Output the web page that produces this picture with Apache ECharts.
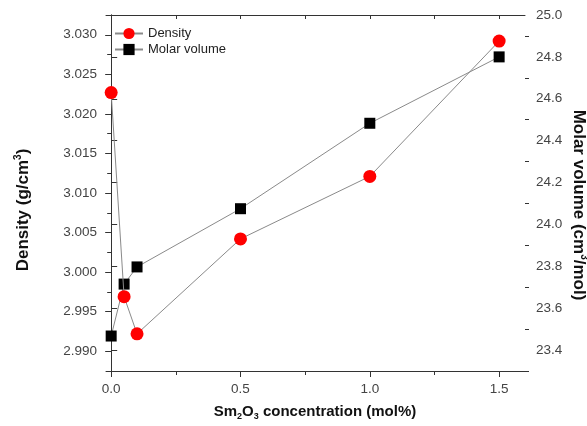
<!DOCTYPE html>
<html>
<head>
<meta charset="utf-8">
<script src="https://cdn.jsdelivr.net/npm/echarts@6/dist/echarts.min.js"></script>
<style>
  html, body { margin: 0; padding: 0; background: #fff; }
  #chart { width: 587px; height: 426px; }
</style>
</head>
<body>
<div id="chart"></div>
<script>
// Sm2O3 concentration (mol%)
const concentration = [0, 0.05, 0.1, 0.5, 1.0, 1.5];
// Density (g/cm3)
const density = [3.0227, 2.9969, 2.9922, 3.0042, 3.0121, 3.0292];
// Molar volume (cm3/mol)
const molarVolume = [23.467, 23.715, 23.797, 24.075, 24.483, 24.80];

// Tick positions
const xMajorTicks = [0, 0.5, 1.0, 1.5];
const xMinorTicks = [0.25, 0.75, 1.25];
const xAllTicks = [0, 0.25, 0.5, 0.75, 1.0, 1.25, 1.5];
const densityMajorTicks = [2.990, 2.995, 3.000, 3.005, 3.010, 3.015, 3.020, 3.025, 3.030];
const densityMinorTicks = [2.9925, 2.9975, 3.0025, 3.0075, 3.0125, 3.0175, 3.0225, 3.0275];
const volumeMajorTicks = [23.4, 23.6, 23.8, 24.0, 24.2, 24.4, 24.6, 24.8, 25.0];
const volumeMinorTicks = [23.3, 23.5, 23.7, 23.9, 24.1, 24.3, 24.5, 24.7, 24.9];

const FONT = '"Liberation Sans", Arial, sans-serif';
const AXIS_COLOR = '#333';
const LABEL_COLOR = '#444';
const TICK_FONT_SIZE = 13.5;
const X_RANGE = [-0.02, 1.6];
const DENSITY_RANGE = [2.9875, 3.0325];
const VOLUME_RANGE = [23.3, 25.0];

function tickOnlyAxis(extra) {
  return Object.assign({
    type: 'value',
    axisLine: { show: false },
    axisLabel: { show: false },
    splitLine: { show: false }
  }, extra);
}

// Bold title with one raised or lowered small digit
function titleRich(size, subSize, shiftPad) {
  return {
    b: { fontFamily: FONT, fontSize: size, fontWeight: 'bold', fill: '#111', lineHeight: size + 5, verticalAlign: 'middle' },
    s: { fontFamily: FONT, fontSize: subSize, fontWeight: 'bold', fill: '#111', lineHeight: size + 5, padding: shiftPad, verticalAlign: 'middle' }
  };
}

const chart = echarts.init(document.getElementById('chart'), null, { renderer: 'canvas' });

chart.setOption({
  animation: false,
  backgroundColor: '#fff',
  grid: { left: 106, right: 62, top: 15, bottom: 55, containLabel: false },
  legend: {
    orient: 'vertical',
    left: 114,
    top: 27,
    padding: 0,
    itemWidth: 28,
    itemHeight: 14,
    itemGap: 3,
    data: ['Density', 'Molar volume'],
    textStyle: { fontFamily: FONT, fontSize: 13, color: '#222' }
  },
  xAxis: [
    {
      type: 'value', position: 'bottom',
      min: X_RANGE[0], max: X_RANGE[1],
      axisLine: { show: true, lineStyle: { color: AXIS_COLOR, width: 1 } },
      axisTick: { show: true, customValues: xMajorTicks, length: 6, lineStyle: { color: AXIS_COLOR } },
      axisLabel: {
        customValues: xMajorTicks, margin: 11,
        formatter: v => v.toFixed(1),
        fontFamily: FONT, fontSize: TICK_FONT_SIZE, color: LABEL_COLOR
      },
      splitLine: { show: false }
    },
    tickOnlyAxis({
      position: 'bottom', min: X_RANGE[0], max: X_RANGE[1],
      axisTick: { show: true, customValues: xMinorTicks, length: 4, lineStyle: { color: AXIS_COLOR } }
    }),
    {
      type: 'value', position: 'top',
      min: X_RANGE[0], max: X_RANGE[1],
      axisLine: { show: true, lineStyle: { color: AXIS_COLOR, width: 1 } },
      axisTick: { show: true, inside: true, customValues: xAllTicks, length: 4, lineStyle: { color: AXIS_COLOR } },
      axisLabel: { show: false },
      splitLine: { show: false }
    }
  ],
  yAxis: [
    {
      type: 'value', position: 'left',
      min: DENSITY_RANGE[0], max: DENSITY_RANGE[1],
      axisLine: { show: true, lineStyle: { color: AXIS_COLOR, width: 1 } },
      axisTick: { show: true, customValues: densityMajorTicks, length: 6, lineStyle: { color: AXIS_COLOR } },
      axisLabel: {
        customValues: densityMajorTicks, margin: 9,
        formatter: v => v.toFixed(3),
        fontFamily: FONT, fontSize: TICK_FONT_SIZE, color: LABEL_COLOR
      },
      splitLine: { show: false }
    },
    tickOnlyAxis({
      position: 'left', min: DENSITY_RANGE[0], max: DENSITY_RANGE[1],
      axisTick: { show: true, customValues: densityMinorTicks, length: 4, lineStyle: { color: AXIS_COLOR } }
    }),
    {
      type: 'value', position: 'right',
      min: VOLUME_RANGE[0], max: VOLUME_RANGE[1],
      axisLine: { show: true, lineStyle: { color: AXIS_COLOR, width: 1 } },
      axisTick: { show: true, customValues: volumeMajorTicks, length: 6, lineStyle: { color: AXIS_COLOR } },
      axisLabel: {
        customValues: volumeMajorTicks, margin: 11,
        formatter: v => v.toFixed(1),
        fontFamily: FONT, fontSize: TICK_FONT_SIZE, color: LABEL_COLOR
      },
      splitLine: { show: false }
    },
    tickOnlyAxis({
      position: 'right', min: VOLUME_RANGE[0], max: VOLUME_RANGE[1],
      axisTick: { show: true, customValues: volumeMinorTicks, length: 4, lineStyle: { color: AXIS_COLOR } }
    })
  ],
  series: [
    {
      name: 'Molar volume',
      type: 'line',
      xAxisIndex: 0, yAxisIndex: 2,
      data: concentration.map((c, i) => [c, molarVolume[i]]),
      symbol: 'rect', symbolSize: 11,
      itemStyle: { color: '#000' },
      lineStyle: { color: '#8a8a8a', width: 1 },
      z: 2
    },
    {
      name: 'Density',
      type: 'line',
      xAxisIndex: 0, yAxisIndex: 0,
      data: concentration.map((c, i) => [c, density[i]]),
      symbol: 'circle', symbolSize: 13,
      itemStyle: { color: '#ff0000' },
      lineStyle: { color: '#8a8a8a', width: 1 },
      z: 3
    }
  ],
  graphic: [
    {
      type: 'text', x: 315, y: 412,
      style: {
        text: '{b|Sm}{s|2}{b|O}{s|3}{b| concentration (mol%)}',
        align: 'center', verticalAlign: 'middle',
        rich: titleRich(15, 9, [9, 0, 0, 0])
      }
    },
    {
      type: 'text', x: 23, y: 210, rotation: Math.PI / 2,
      style: {
        text: '{b|Density (g/cm}{s|3}{b|)}',
        align: 'center', verticalAlign: 'middle',
        rich: titleRich(17, 10, [0, 0, 9, 0])
      }
    },
    {
      type: 'text', x: 579, y: 205, rotation: -Math.PI / 2,
      style: {
        text: '{b|Molar volume (cm}{s|3}{b|/mol)}',
        align: 'center', verticalAlign: 'middle',
        rich: titleRich(17, 10, [0, 0, 9, 0])
      }
    }
  ]
});
</script>
</body>
</html>
